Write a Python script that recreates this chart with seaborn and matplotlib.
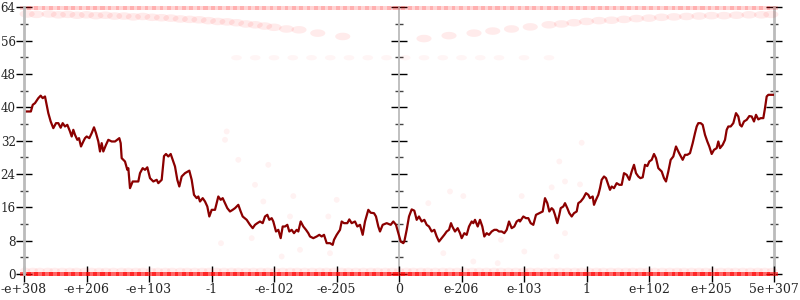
import matplotlib
matplotlib.use("Agg")
import matplotlib.pyplot as plt
import seaborn as sns
import pandas as pd
import numpy as np

# ---------------- data ----------------
tick_pos = [-6, -5, -4, -3, -2, -1, 0, 1, 2, 3, 4, 5, 6]
tick_labels = ["-e+308", "-e+206", "-e+103", "-1", "-e-102", "-e-205", "0",
               "e-206", "e-103", "1", "e+102", "e+205", "5e+307"]
ytick_major = [0, 8, 16, 24, 32, 40, 48, 56, 64]
ytick_minor = [4, 12, 20, 28, 36, 44, 52, 60]

# average error line
line_x = [-6.0, -5.89, -5.86, -5.824, -5.771, -5.733, -5.701, -5.664, -5.637, -5.611,
          -5.573, -5.531, -5.488, -5.451, -5.413, -5.381, -5.344, -5.307, -5.264, -5.237,
          -5.211, -5.184, -5.147, -5.12, -5.088, -5.051, -5.024, -4.997, -4.955, -4.917,
          -4.88, -4.848, -4.811, -4.784, -4.757, -4.731, -4.688, -4.651, -4.597, -4.544,
          -4.475, -4.453, -4.437, -4.384, -4.347, -4.331, -4.304, -4.261, -4.171, -4.144,
          -4.101, -4.064, -4.027, -3.984, -3.931, -3.877, -3.851, -3.797, -3.76, -3.728,
          -3.691, -3.653, -3.621, -3.584, -3.547, -3.515, -3.477, -3.424, -3.355, -3.317,
          -3.28, -3.237, -3.211, -3.184, -3.141, -3.104, -3.067, -3.035, -2.997, -2.944,
          -2.891, -2.853, -2.821, -2.784, -2.747, -2.704, -2.661, -2.624, -2.571, -2.533,
          -2.501, -2.437, -2.384, -2.341, -2.304, -2.267, -2.224, -2.181, -2.144, -2.107,
          -2.075, -2.037, -2.011, -1.968, -1.931, -1.893, -1.861, -1.824, -1.787, -1.755,
          -1.717, -1.68, -1.637, -1.611, -1.573, -1.531, -1.488, -1.451, -1.424, -1.371,
          -1.317, -1.275, -1.237, -1.2, -1.157, -1.104, -1.061, -1.04, -0.997, -0.944,
          -0.917, -0.88, -0.827, -0.795, -0.757, -0.704, -0.667, -0.624, -0.581, -0.544,
          -0.491, -0.453, -0.4, -0.368, -0.331, -0.304, -0.261, -0.197, -0.133, -0.091,
          -0.048, -0.011, 0.027, 0.069, 0.085, 0.123, 0.16, 0.203, 0.245, 0.283,
          0.32, 0.363, 0.405, 0.443, 0.48, 0.523, 0.565, 0.603, 0.64, 0.683,
          0.725, 0.763, 0.8, 0.832, 0.853, 0.896, 0.939, 0.976, 1.003, 1.045,
          1.083, 1.12, 1.163, 1.189, 1.216, 1.259, 1.296, 1.333, 1.365, 1.403,
          1.44, 1.483, 1.525, 1.563, 1.6, 1.643, 1.685, 1.723, 1.76, 1.803,
          1.845, 1.883, 1.92, 1.936, 1.989, 2.032, 2.069, 2.107, 2.149, 2.192,
          2.245, 2.299, 2.336, 2.373, 2.405, 2.443, 2.469, 2.496, 2.533, 2.565,
          2.587, 2.629, 2.656, 2.693, 2.725, 2.763, 2.8, 2.843, 2.869, 2.907,
          2.949, 2.992, 3.029, 3.056, 3.099, 3.12, 3.152, 3.189, 3.216, 3.243,
          3.28, 3.312, 3.349, 3.376, 3.403, 3.44, 3.483, 3.525, 3.563, 3.6,
          3.643, 3.685, 3.723, 3.76, 3.792, 3.829, 3.862, 3.899, 3.936, 3.973,
          4.005, 4.043, 4.08, 4.112, 4.149, 4.176, 4.203, 4.24, 4.272, 4.309,
          4.347, 4.389, 4.432, 4.469, 4.496, 4.539, 4.576, 4.613, 4.656, 4.699,
          4.736, 4.763, 4.789, 4.827, 4.859, 4.896, 4.933, 4.965, 5.003, 5.04,
          5.083, 5.109, 5.136, 5.179, 5.216, 5.243, 5.269, 5.307, 5.349, 5.392,
          5.429, 5.456, 5.483, 5.52, 5.563, 5.605, 5.643, 5.68, 5.712, 5.749,
          5.787, 5.829, 5.856, 5.883, 5.909, 6.0]
line_y = [39.0, 39.0, 40.6, 41.0, 42.2, 42.8, 42.2, 42.6, 40.6, 38.6,
          36.6, 35.0, 36.2, 36.2, 35.1, 36.2, 35.4, 35.8, 34.2, 33.0,
          34.6, 33.4, 32.2, 32.6, 30.6, 31.8, 32.6, 33.0, 32.6, 33.8,
          35.2, 33.8, 31.8, 29.4, 31.4, 29.4, 31.0, 32.2, 31.8, 31.8,
          32.6, 31.4, 27.8, 27.0, 25.0, 25.4, 20.6, 22.2, 22.2, 24.2,
          25.4, 25.0, 25.6, 23.0, 22.2, 22.6, 21.8, 22.6, 28.3, 28.8,
          28.2, 28.8, 27.4, 25.8, 22.6, 21.0, 23.4, 24.2, 24.8, 22.6,
          19.0, 18.2, 18.6, 17.4, 18.2, 17.4, 16.2, 13.8, 15.4, 15.4,
          18.6, 17.8, 18.2, 17.0, 15.8, 15.0, 15.4, 15.8, 16.6, 15.0,
          13.8, 13.0, 11.8, 11.0, 11.8, 12.2, 12.6, 12.2, 13.8, 14.2,
          13.0, 13.4, 12.6, 10.2, 10.6, 8.6, 11.4, 11.4, 11.8, 10.2,
          10.6, 9.8, 10.6, 10.2, 12.6, 11.4, 10.6, 9.8, 9.0, 8.6,
          9.0, 9.4, 9.0, 9.4, 7.4, 7.4, 7.0, 8.2, 9.4, 10.6,
          12.6, 12.2, 12.2, 13.1, 12.2, 12.6, 11.4, 11.8, 9.4, 12.6,
          15.4, 14.7, 14.6, 13.8, 11.4, 10.2, 11.8, 12.2, 11.8, 12.6,
          11.8, 9.8, 7.8, 7.4, 7.8, 10.6, 13.8, 15.5, 15.2, 13.0,
          13.8, 12.6, 13.0, 11.8, 11.4, 10.2, 10.6, 9.0, 7.8, 8.6,
          9.4, 10.2, 10.6, 12.2, 11.4, 10.2, 11.0, 9.8, 8.6, 9.8,
          9.4, 11.4, 12.6, 12.2, 13.0, 11.4, 13.0, 11.4, 9.0, 9.8,
          9.4, 10.2, 10.6, 10.6, 10.2, 10.2, 9.8, 10.6, 12.6, 11.0,
          11.4, 12.6, 13.0, 12.6, 13.8, 13.4, 13.4, 12.2, 11.8, 14.2,
          14.6, 15.0, 18.2, 17.0, 15.0, 15.8, 15.4, 14.2, 12.2, 14.2,
          15.8, 16.2, 17.0, 15.8, 14.6, 13.8, 14.6, 15.0, 17.0, 17.4,
          18.2, 19.4, 19.0, 18.2, 18.6, 16.6, 17.8, 19.0, 20.6, 22.6,
          23.4, 23.0, 21.4, 20.2, 21.0, 20.6, 21.8, 21.4, 21.4, 24.2,
          23.8, 22.6, 24.6, 26.2, 24.2, 23.4, 23.0, 23.2, 26.2, 25.9,
          27.0, 27.4, 28.8, 27.8, 25.4, 25.0, 24.6, 23.0, 22.2, 24.6,
          27.4, 28.2, 30.6, 29.4, 28.6, 27.4, 28.6, 28.6, 29.0, 31.4,
          33.8, 35.4, 36.2, 36.2, 35.8, 33.4, 31.8, 30.6, 28.8, 29.8,
          30.2, 31.8, 30.2, 31.0, 32.2, 34.6, 35.4, 35.4, 36.2, 38.6,
          37.8, 35.8, 35.4, 36.6, 37.0, 37.9, 37.8, 36.6, 38.2, 37.1,
          37.4, 37.4, 39.8, 42.6, 43.0, 43.0]

# sampled points (error of individual inputs)
sample_x = [-5.98, -5.86, -5.75, -5.62, -5.51, -5.39, -5.27, -5.16, -5.03, -4.92,
            -4.8, -4.69, -4.57, -4.44, -4.33, -4.21, -4.1, -3.97, -3.86, -3.74,
            -3.63, -3.5, -3.39, -3.27, -3.15, -3.04, -2.92, -2.8, -2.68, -2.57,
            -2.45, -2.33, -2.21, -2.1, -1.98, -1.86, -1.74, -1.63, -1.51, -1.39,
            -1.27, -1.16, -1.04, -0.92, -0.81, -0.69, -0.57, -0.45, -0.34, -0.22,
            -0.11, 0.0, 0.12, 0.23, 0.35, 0.46, 0.58, 0.7, 0.81, 0.93,
            1.05, 1.17, 1.28, 1.4, 1.52, 1.63, 1.75, 1.87, 1.99, 2.1,
            2.22, 2.34, 2.46, 2.57, 2.69, 2.81, 2.92, 3.04, 3.16, 3.27,
            3.39, 3.51, 3.63, 3.74, 3.86, 3.98, 4.09, 4.21, 4.33, 4.45,
            4.56, 4.68, 4.8, 4.91, 5.03, 5.15, 5.27, 5.38, 5.5, 5.62,
            5.74, 5.85, 5.97]
zero_level = 0.0
low_level = 0.9
top_level = 63.8

band_left_x = [-5.95, -5.8, -5.6, -5.45, -5.3, -5.15, -5.0, -4.85, -4.7, -4.55, -4.4,
               -4.25, -4.1, -3.95, -3.8, -3.65, -3.5, -3.35, -3.2, -3.05, -2.9,
               -2.75, -2.6, -2.45, -2.3, -2.15, -2.0, -1.8, -1.6, -1.3, -0.9]
band_left_y = [62.4, 62.3, 62.4, 62.2, 62.3, 62.1, 62.2, 62.0, 62.1, 61.9, 61.9,
               61.7, 61.8, 61.6, 61.5, 61.4, 61.2, 61.1, 61.0, 60.8, 60.6,
               60.5, 60.3, 60.0, 59.8, 59.5, 59.2, 58.8, 58.6, 57.8, 57.0]
band_right_x = [0.4, 0.8, 1.2, 1.5, 1.8, 2.1, 2.4, 2.6, 2.8, 3.0, 3.2, 3.4, 3.6,
                3.8, 4.0, 4.2, 4.4, 4.6, 4.8, 5.0, 5.2, 5.4, 5.6, 5.8, 5.95]
band_right_y = [56.5, 57.2, 57.8, 58.3, 58.8, 59.3, 59.8, 60.0, 60.3, 60.6, 60.8,
                60.9, 61.1, 61.3, 61.4, 61.6, 61.7, 61.8, 61.9, 62.0, 62.0,
                62.1, 62.2, 62.2, 62.3]
mid_band_x = [-2.6, -2.3, -2.0, -1.7, -1.4, -1.1, -0.8, -0.5, -0.2, 0.1, 0.4,
              0.7, 1.0, 1.3, 1.6, 2.0, 2.4]
mid_band_level = 51.9

scatter_x = [-2.757, -2.784, -2.571, -2.091, -2.304, -2.171, -2.357, -1.691, -0.997,
             -1.744, -1.131, -1.584, -1.877, -1.104, -2.848, 0.469, 0.816, 1.029,
             1.963, 0.709, 1.632, 2.005, 2.923, 2.565, 2.656, 2.896, 2.443, 2.656,
             2.523, 1.579, 1.189]
scatter_y = [34.2, 32.2, 27.4, 26.2, 21.4, 17.4, 8.6, 18.7, 17.8,
             13.8, 13.8, 5.8, 4.2, 5.0, 7.4, 17.0, 19.8, 18.7,
             18.7, 5.0, 8.2, 5.4, 31.5, 27.0, 22.2, 21.5, 20.8, 9.8,
             4.2, 2.6, 3.0]

# ---------------- plotting ----------------
sns.set_style("white")
plt.rcParams["font.family"] = ["DejaVu Serif"]

fig = plt.figure(figsize=(8, 3), dpi=100)
ax = fig.add_axes([24 / 800, 26 / 300, 750 / 800, 266.7 / 300])

red = "#ff0000"
thin = [(-1.0, -0.36), (1.0, -0.36), (1.0, 0.36), (-1.0, 0.36)]
_t = np.linspace(0, 2 * np.pi, 25)
ellipse = list(zip(np.cos(_t), 0.5 * np.sin(_t)))
kw = dict(color=red, edgecolor="none", legend=False, ax=ax, clip_on=False)

sns.scatterplot(x=sample_x, y=[zero_level] * len(sample_x), marker=thin, s=64, alpha=0.6, **kw)
sns.scatterplot(x=sample_x, y=[low_level] * len(sample_x), marker=ellipse, s=55, alpha=0.07, **kw)
sns.scatterplot(x=sample_x, y=[top_level] * len(sample_x), marker=thin, s=64, alpha=0.17, **kw)
sns.scatterplot(x=band_left_x, y=band_left_y, marker=ellipse, s=120, alpha=0.08, **kw)
sns.scatterplot(x=band_right_x, y=band_right_y, marker=ellipse, s=120, alpha=0.08, **kw)
sns.scatterplot(x=mid_band_x, y=[mid_band_level] * len(mid_band_x), marker=ellipse, s=60, alpha=0.04, **kw)
sns.scatterplot(x=scatter_x, y=scatter_y, s=18, alpha=0.05, **kw)

df = pd.DataFrame({"x": line_x, "y": line_y})
sns.lineplot(data=df, x="x", y="y", color="#8b0000", linewidth=1.6,
             estimator=None, sort=False, ax=ax)

ax.set_xlim(-6, 6)
ax.set_ylim(0, 64)
ax.set_xlabel("")
ax.set_ylabel("")

ax.set_xticks(tick_pos)
ax.set_xticklabels(tick_labels, fontsize=9)
ax.set_yticks(ytick_major)
ax.set_yticks(ytick_minor, minor=True)
ax.set_yticklabels([str(v) for v in ytick_major], fontsize=8.6)

for s in ["top", "bottom", "right"]:
    ax.spines[s].set_visible(False)
ax.spines["left"].set_color("#bbbbbb")
ax.spines["left"].set_linewidth(2)

ax.tick_params(axis="both", which="major", direction="inout", length=11,
               width=1, color="black", pad=2)
ax.tick_params(axis="y", which="minor", direction="inout", length=6,
               width=1, color="#444444", left=True)
ax.tick_params(axis="x", which="major", bottom=True, pad=1)
ax.tick_params(axis="y", which="major", left=True, pad=0.5)

for loc, lw in [(0.5, 1.3), ("right", 2)]:
    sec = ax.secondary_yaxis(loc)
    sec.set_yticks(ytick_major)
    sec.set_yticks(ytick_minor, minor=True)
    sec.tick_params(which="major", direction="inout", length=11, width=1,
                    color="black", labelleft=False, labelright=False)
    sec.tick_params(which="minor", direction="inout", length=6, width=1,
                    color="#444444")
    for sp in sec.spines.values():
        sp.set_color("#bbbbbb")
        sp.set_linewidth(lw)

fig.savefig("out.png", dpi=100)
